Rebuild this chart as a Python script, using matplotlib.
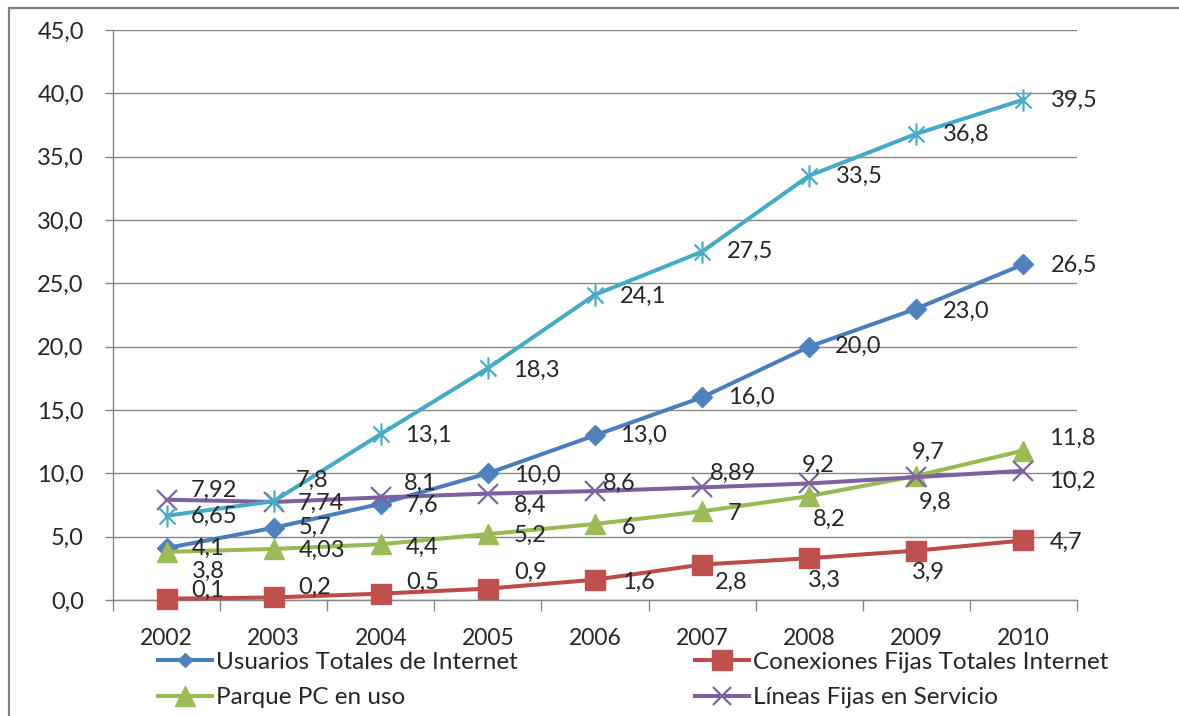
import matplotlib
matplotlib.use("Agg")
import matplotlib.pyplot as plt
from matplotlib.path import Path
from matplotlib.patches import Rectangle
from matplotlib.ticker import FuncFormatter, FixedLocator

# ---- data -------------------------------------------------------------
anios = ["2002", "2003", "2004", "2005", "2006", "2007", "2008", "2009", "2010"]
usuarios = [4.1, 5.7, 7.6, 10.0, 13.0, 16.0, 20.0, 23.0, 26.5]
conexiones = [0.1, 0.2, 0.5, 0.9, 1.6, 2.8, 3.3, 3.9, 4.7]
parque_pc = [3.8, 4.03, 4.4, 5.2, 6, 7, 8.2, 9.8, 11.8]
lineas = [7.92, 7.74, 8.1, 8.4, 8.6, 8.89, 9.2, 9.7, 10.2]
serie5 = [6.65, 7.8, 13.1, 18.3, 24.1, 27.5, 33.5, 36.8, 39.5]

nombres = {
    "usuarios": "Usuarios Totales de Internet",
    "conexiones": "Conexiones Fijas Totales Internet",
    "parque_pc": "Parque PC en uso",
    "lineas": "Líneas Fijas en Servicio",
}

# ---- label placement (pixel offsets from each marker: dx right, dy down) ----
off_usuarios = [(25, 0), (25, 0), (25, 2), (26, 2), (25, 0), (26, 0), (26, 0), (27, 3), (27, 1)]
off_conexiones = [(25, -8), (25, -10), (25, -11), (26, -16), (27, 3), (13, 18), (-1, 22), (-4, 22), (26, 2)]
off_parque = [(25, 19), (25, 1), (25, 3), (26, 1), (27, 3), (26, 2), (4, 23), (2, 26), (26, -12)]
off_lineas = [(24, -9), (24, 1), (23, -14), (26, 12), (8, -8), (8, -14), (-7, -18), (-5, -25), (26, 11)]
off_serie5 = [(24, 1), (22, -21), (24, 1), (25, 2), (25, 2), (25, 0), (27, 1), (27, 0), (27, 1)]

W, H, DPI = 1179, 716, 100
fig = plt.figure(figsize=(W / DPI, H / DPI), dpi=DPI)
fig.patch.set_facecolor("white")

ax = fig.add_axes([113 / W, 1 - 600 / H, (1077 - 113) / W, (600 - 30) / H])

TXT = "#262626"
GRID = "#868686"
FONT = "Lato"
PX = 72 / DPI  # points per pixel

asterisk = Path(
    [(0, -1), (0, 1), (-0.72, -0.72), (0.72, 0.72), (-0.72, 0.72), (0.72, -0.72)],
    [Path.MOVETO, Path.LINETO, Path.MOVETO, Path.LINETO, Path.MOVETO, Path.LINETO],
)

x = list(range(len(anios)))

# values, line colour, marker colour, marker, marker size, legend name,
# label offsets, label format, legend marker size
series = [
    (usuarios, "#4A7EBB", "#4F81BD", "D", 10.5, nombres["usuarios"], off_usuarios, "{:.1f}", 7),
    (conexiones, "#BE4B48", "#C0504D", "s", 15, nombres["conexiones"], off_conexiones, "{:g}", 14),
    (parque_pc, "#98B954", "#9BBB59", "^", 14.5, nombres["parque_pc"], off_parque, "{:g}", 14),
    (lineas, "#7D60A0", "#8064A2", "x", 14.5, nombres["lineas"], off_lineas, "{:g}", 13),
    (serie5, "#46AAC5", "#4BACC6", asterisk, 16, None, off_serie5, "{:g}", 14),
]

handles = {}
for i, (vals, lc, mc, mk, ms, name, offs, fmt, lms) in enumerate(series):
    unfilled = mk in ("x",) or mk is asterisk
    ln, = ax.plot(
        x, vals, color=lc, lw=2.9, marker=mk, markersize=ms,
        markerfacecolor=mc, markeredgecolor=mc,
        markeredgewidth=1.6 if unfilled else 1.0,
        zorder=3 + i, solid_capstyle="round", clip_on=False,
    )
    if name:
        handles[name] = (ln, lms)
    for xi, v, (dx, dy) in zip(x, vals, offs):
        ax.annotate(
            fmt.format(v).replace(".", ","), xy=(xi, v),
            xytext=(dx * PX, -dy * PX), textcoords="offset points",
            ha="left", va="center", fontsize=17, color=TXT,
            family=FONT, zorder=10,
        )

# ---- axes -------------------------------------------------------------
ax.set_xlim(-0.5, len(anios) - 0.5)
ax.set_ylim(0, 45)
ax.set_yticks([i * 5 for i in range(10)])
ax.yaxis.set_major_formatter(FuncFormatter(lambda v, p: f"{v:.1f}".replace(".", ",")))
ax.grid(axis="y", color=GRID, lw=1.0, zorder=0)
ax.set_axisbelow(True)

ax.set_xticks(x)
ax.set_xticklabels(anios, fontsize=16.5, color=TXT, family=FONT)
ax.xaxis.set_minor_locator(FixedLocator([i - 0.5 for i in range(len(anios) + 1)]))
ax.tick_params(axis="x", which="major", length=0, pad=20)
ax.tick_params(axis="x", which="minor", length=8, width=1, color=GRID, direction="out")
ax.tick_params(axis="y", length=6, width=1, color=GRID, direction="out", pad=15)
for lab in ax.get_yticklabels():
    lab.set_fontsize(17)
    lab.set_color(TXT)
    lab.set_family(FONT)

for s in ("top", "right"):
    ax.spines[s].set_visible(False)
for s in ("left", "bottom"):
    ax.spines[s].set_color(GRID)
    ax.spines[s].set_linewidth(1.0)

# ---- legend -----------------------------------------------------------
def leyenda(names, x_px):
    hs = []
    for n in names:
        h, lms = handles[n]
        hs.append(plt.Line2D([], [], color=h.get_color(), lw=2.9, marker=h.get_marker(),
                             markersize=lms, markerfacecolor=h.get_markerfacecolor(),
                             markeredgecolor=h.get_markeredgecolor(),
                             markeredgewidth=h.get_markeredgewidth()))
    lg = fig.legend(hs, names, loc="center left", bbox_to_anchor=(x_px / W, 1 - 680 / H),
                    frameon=False, borderpad=0, borderaxespad=0, handlelength=2.22,
                    handletextpad=0.18, labelspacing=0.58,
                    prop={"family": FONT, "size": 17.5})
    for t in lg.get_texts():
        t.set_color(TXT)
    return lg

leyenda([nombres["usuarios"], nombres["parque_pc"]], 158)
leyenda([nombres["conexiones"], nombres["lineas"]], 695)

# ---- outer frame ------------------------------------------------------
fig.add_artist(Rectangle((9 / W, -0.1), 1.2, 1 - 8 / H + 0.1, transform=fig.transFigure,
                         fill=False, edgecolor="#808080", lw=1.6, clip_on=False))

fig.savefig("out.png", dpi=DPI)
